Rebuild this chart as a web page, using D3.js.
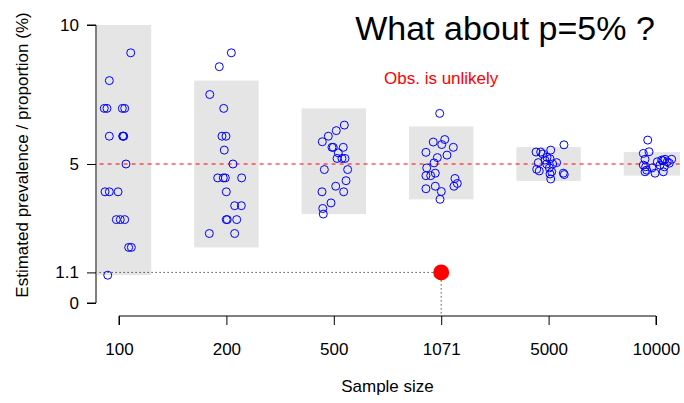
<!DOCTYPE html>
<html>
<head>
<meta charset="utf-8">
<script src="https://cdn.jsdelivr.net/npm/d3@7"></script>
<style>
  html, body { margin: 0; padding: 0; background: #fff; }
  svg { display: block; font-family: "Liberation Sans", Arial, Helvetica, sans-serif; }
</style>
</head>
<body>
<svg id="chart" width="684" height="403"></svg>
<script>
// Sample sizes shown along the x axis
const sampleSizes = ["100", "200", "500", "1071", "5000", "10000"];

// 95% range of the estimate for each sample size (%)
const rangeLow  = [1.0, 2.0, 3.2, 3.73, 4.39, 4.58];
const rangeHigh = [10.0, 8.0, 7.0, 6.35, 5.61, 5.43];

// Simulated survey estimates (%) for each sample size, with horizontal jitter
const est100  = [9, 8, 7, 7, 7, 7, 6, 6, 6, 6, 5, 4, 4, 4, 3, 3, 3, 2, 2, 1];
const jit100  = [0.109, -0.090, -0.137, -0.112, 0.031, 0.053, -0.090, 0.034, 0.044, 0.040, 0.065, -0.130, -0.090, -0.009, -0.025, 0.012, 0.053, 0.090, 0.115, -0.105];

const est200  = [9, 8.5, 7.5, 7, 6, 6, 5.5, 5, 4.5, 4.5, 4.5, 4.5, 4, 3.5, 3.5, 3, 3, 3, 2.5, 2.5];
const jit200  = [0.046, -0.066, -0.155, -0.025, -0.041, -0.004, -0.020, 0.061, -0.081, -0.029, -0.010, 0.142, -0.001, 0.077, 0.139, -0.001, 0.008, 0.096, -0.159, 0.077];

const est500  = [6.4, 6.2, 6.0, 5.8, 5.6, 5.6, 5.6, 5.4, 5.2, 5.2, 5.2, 4.8, 4.8, 4.4, 4.2, 4.0, 4.0, 3.6, 3.4, 3.2];
const jit500  = [0.098, 0.023, -0.051, -0.107, -0.017, -0.005, 0.088, 0.042, 0.030, 0.076, 0.104, -0.088, 0.129, 0.114, 0.018, -0.110, 0.092, -0.026, -0.103, -0.098];

const est1071 = [6.82, 5.88, 5.79, 5.70, 5.60, 5.42, 5.32, 5.23, 5.04, 4.86, 4.67, 4.58, 4.58, 4.48, 4.30, 4.20, 4.11, 4.20, 4.01, 3.73];
const jit1071 = [-0.014, 0.033, -0.074, 0.005, 0.113, -0.142, 0.054, -0.036, -0.067, -0.135, -0.055, -0.142, -0.098, 0.128, 0.150, 0.119, -0.142, -0.055, 0.001, -0.011];

const est5000 = [5.69, 5.43, 5.43, 5.36, 5.50, 5.19, 5.05, 5.05, 5.00, 5.00, 4.81, 4.75, 4.86, 4.72, 4.64, 4.67, 4.62, 4.46, 5.14, 5.24];
const jit5000 = [0.143, -0.117, -0.074, -0.055, 0.020, 0.013, -0.096, 0.075, -0.018, 0.038, -0.111, -0.087, 0.007, 0.029, 0.013, 0.137, 0.146, 0.020, -0.034, -0.015];

const est10000 = [5.86, 5.38, 5.44, 5.17, 4.96, 4.90, 4.78, 5.08, 5.14, 5.17, 5.08, 5.17, 4.67, 4.72, 5.03, 4.72, 4.90, 4.96, 4.86, 5.12];
const jit10000 = [-0.077, -0.118, -0.065, -0.102, -0.118, -0.096, -0.087, 0.012, 0.053, 0.084, 0.105, 0.146, -0.009, 0.068, 0.124, -0.102, 0.077, 0.037, -0.037, 0.065];

const estimates = [est100, est200, est500, est1071, est5000, est10000];
const jitters   = [jit100, jit200, jit500, jit1071, jit5000, jit10000];

// Reference prevalence and the observed value
const trueP = 5;
const observedP = 1.1;
const observedGroup = "1071";
const yTicks = [0, 1.1, 5, 10];

const svg = d3.select("#chart");
const x = d3.scaleLinear().domain([0, sampleSizes.length - 1]).range([119, 656]);
const y = d3.scaleLinear().domain([0, 10]).range([303, 25]);
const boxHalf = 0.3;

// Plot region clip
svg.append("defs").append("clipPath").attr("id", "plotClip")
  .append("rect").attr("x", 97).attr("y", 0).attr("width", 583).attr("height", 403);

const plot = svg.append("g").attr("clip-path", "url(#plotClip)");

// Grey bands: range of likely estimates per sample size
plot.selectAll("rect.band")
  .data(sampleSizes.map((s, i) => ({ i, lo: rangeLow[i], hi: rangeHigh[i] })))
  .join("rect")
  .attr("class", "band")
  .attr("x", d => x(d.i - boxHalf))
  .attr("width", d => x(d.i + boxHalf) - x(d.i - boxHalf))
  .attr("y", d => y(d.hi))
  .attr("height", d => y(d.lo) - y(d.hi))
  .attr("fill", "#E5E5E5");

// True prevalence
plot.append("line")
  .attr("x1", x(-1)).attr("x2", x(6))
  .attr("y1", y(trueP)).attr("y2", y(trueP))
  .attr("stroke", "#FF0000").attr("stroke-width", 1)
  .attr("stroke-dasharray", "4,4");

// Guides to the observed value
const obsIdx = sampleSizes.indexOf(observedGroup);
plot.append("line")
  .attr("x1", x(-1)).attr("x2", x(obsIdx))
  .attr("y1", y(observedP)).attr("y2", y(observedP))
  .attr("stroke", "#000").attr("stroke-width", 1)
  .attr("stroke-dasharray", "1,3");
plot.append("line")
  .attr("x1", x(obsIdx)).attr("x2", x(obsIdx))
  .attr("y1", y(observedP)).attr("y2", 316)
  .attr("stroke", "#000").attr("stroke-width", 1)
  .attr("stroke-dasharray", "1,3");

// Simulated estimates
const pts = [];
estimates.forEach((arr, i) => arr.forEach((v, k) => pts.push({ i, v, j: jitters[i][k] })));
plot.selectAll("circle.est")
  .data(pts)
  .join("circle")
  .attr("class", "est")
  .attr("cx", d => x(d.i + d.j))
  .attr("cy", d => y(d.v))
  .attr("r", 4)
  .attr("fill", "none")
  .attr("stroke", "#0000FF")
  .attr("stroke-width", 1);

// Observed value
plot.append("circle")
  .attr("cx", x(obsIdx)).attr("cy", y(observedP))
  .attr("r", 8).attr("fill", "#FF0000");

// Y axis
const yAxis = d3.axisLeft(y).tickValues(yTicks).tickSize(9).tickPadding(8)
  .tickFormat(d => d === 1.1 ? "1.1" : d3.format("d")(d));
const yg = svg.append("g").attr("transform", "translate(96,0)").call(yAxis);
yg.select(".domain").attr("d", `M-9,${y(10)}H0V${y(0)}H-9`).attr("stroke", "#000");
yg.selectAll(".tick line").attr("stroke", "#000");
yg.selectAll(".tick text").attr("font-size", 17).attr("fill", "#000")
  .attr("font-family", "Liberation Sans, Arial, sans-serif");

// X axis
const xAxis = d3.axisBottom(x).tickValues(d3.range(sampleSizes.length)).tickSize(9).tickPadding(18)
  .tickFormat(i => sampleSizes[i]);
const xg = svg.append("g").attr("transform", "translate(0,316)").call(xAxis);
xg.select(".domain").attr("d", `M${x(0)},9V0H${x(5)}V9`).attr("stroke", "#000");
xg.selectAll(".tick line").attr("stroke", "#000");
xg.selectAll(".tick text").attr("font-size", 17).attr("fill", "#000")
  .attr("font-family", "Liberation Sans, Arial, sans-serif");

// Axis titles
svg.append("text")
  .attr("x", x(2.5)).attr("y", 392)
  .attr("text-anchor", "middle").attr("font-size", 17)
  .text("Sample size");
svg.append("text")
  .attr("transform", "translate(28,155) rotate(-90)")
  .attr("text-anchor", "middle").attr("font-size", 17)
  .text("Estimated prevalence / proportion (%)");

// Title and annotation
svg.append("text")
  .attr("x", 505).attr("y", 40)
  .attr("text-anchor", "middle").attr("font-size", 34)
  .text("What about p=5% ?");
svg.append("text")
  .attr("x", x(obsIdx)).attr("y", 84)
  .attr("text-anchor", "middle").attr("font-size", 17)
  .attr("fill", "#FF0000")
  .text("Obs. is unlikely");
</script>
</body>
</html>
